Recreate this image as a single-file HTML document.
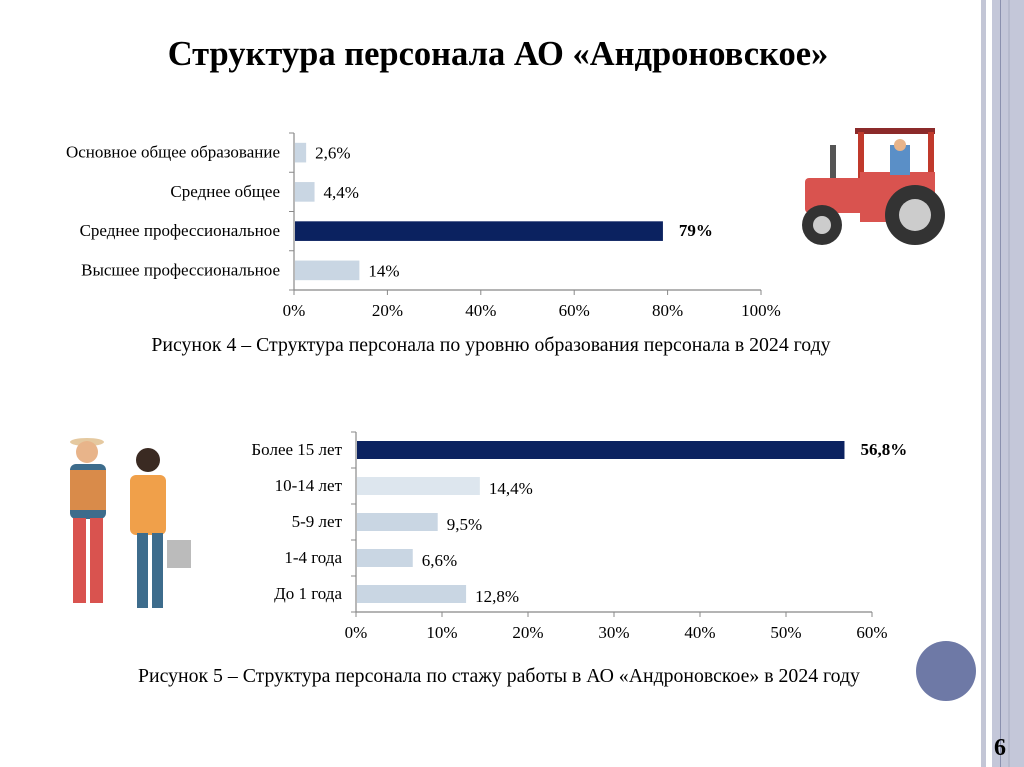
<!DOCTYPE html>
<html><head><meta charset="utf-8"><style>
body{margin:0;width:1024px;height:767px;background:#fff;overflow:hidden;position:relative;font-family:"Liberation Serif",serif}
.abs{position:absolute}
</style></head><body>
<div class="abs" style="left:981px;top:0;width:5px;height:767px;background:#c3c6d6"></div>
<div class="abs" style="left:992px;top:0;width:32px;height:767px;background:#c4c7d9"></div>
<div class="abs" style="left:1000px;top:0;width:1px;height:767px;background:#8a90ae"></div>
<div class="abs" style="left:1008px;top:0;width:2px;height:767px;background:#b6bacd"></div>
<div class="abs" style="left:916px;top:641px;width:60px;height:60px;border-radius:50%;background:#6e79a6"></div>
<div class="abs" style="left:994px;top:735px;font-weight:bold;font-size:24px">6</div>
<div class="abs" style="left:0;width:996px;top:35px;text-align:center;font-size:34.5px;font-weight:bold">Структура персонала АО «Андроновское»</div>
<div class="abs" style="left:0;width:982px;top:334px;text-align:center;font-size:19.8px">Рисунок 4 – Структура персонала по уровню образования персонала в 2024 году</div>
<div class="abs" style="left:0;width:998px;top:665px;text-align:center;font-size:19.8px">Рисунок 5 – Структура персонала по стажу работы в АО «Андроновское» в 2024 году</div>

<svg class="abs" style="left:0;top:0" width="1024" height="767" id="svg">
<g>
<rect x="855" y="128" width="80" height="6" fill="#8b2a2a"/>
<rect x="858" y="132" width="6" height="50" fill="#c0392b"/>
<rect x="928" y="132" width="6" height="55" fill="#c0392b"/>
<rect x="830" y="145" width="6" height="35" fill="#555"/>
<rect x="805" y="178" width="130" height="35" rx="4" fill="#d9534f"/>
<rect x="860" y="172" width="75" height="50" fill="#d9534f"/>
<rect x="890" y="145" width="20" height="30" fill="#5a8fc7"/>
<circle cx="900" cy="145" r="6" fill="#e8b48a"/>
<circle cx="915" cy="215" r="30" fill="#333"/><circle cx="915" cy="215" r="16" fill="#ccc"/>
<circle cx="822" cy="225" r="20" fill="#333"/><circle cx="822" cy="225" r="9" fill="#ccc"/>
</g>
<g>
<ellipse cx="87" cy="442" rx="17" ry="4" fill="#e5c9a0"/>
<circle cx="87" cy="452" r="11" fill="#e8b48a"/>
<rect x="70" y="464" width="36" height="55" rx="6" fill="#3d6c8c"/>
<rect x="70" y="470" width="36" height="40" fill="#d98b4a"/>
<rect x="73" y="518" width="13" height="85" fill="#d9534f"/><rect x="90" y="518" width="13" height="85" fill="#d9534f"/>
<circle cx="148" cy="460" r="12" fill="#3a2a22"/>
<rect x="130" y="475" width="36" height="60" rx="6" fill="#f0a04a"/>
<rect x="137" y="533" width="11" height="75" fill="#3d6c8c"/><rect x="152" y="533" width="11" height="75" fill="#3d6c8c"/>
<rect x="167" y="540" width="24" height="28" fill="#bbb"/>
</g>
</svg>
<script>
const svg=document.getElementById('svg');
const NS='http://www.w3.org/2000/svg';
function mk(t,a,p){const e=document.createElementNS(NS,t);for(const k in a)e.setAttribute(k,a[k]);(p||svg).appendChild(e);return e;}

const eduCategories=["Основное общее образование","Среднее общее","Среднее профессиональное","Высшее профессиональное"];
const eduValues=[2.6,4.4,79,14];
const eduLabels=["2,6%","4,4%","79%","14%"];
const eduTicks=[0,20,40,60,80,100];
const expCategories=["Более 15 лет","10-14 лет","5-9 лет","1-4 года","До 1 года"];
const expValues=[56.8,14.4,9.5,6.6,12.8];
const expLabels=["56,8%","14,4%","9,5%","6,6%","12,8%"];
const expTicks=[0,10,20,30,40,50,60];

function chart(cfg){
  const {cats,vals,labels,ticks,x0,x1,max,y0,y1,colors,name,valOff}=cfg;
  const g=mk('g',{});
  
  
  const xs=v=>x0+(x1-x0)*v/max;
  const band=(y1-y0)/cats.length;
  const ax=mk('line',{x1:x0,y1:y0,x2:x0,y2:y1,stroke:'#888','stroke-width':1.2},g);
  
  const bx=mk('line',{x1:x0,y1:y1,x2:x1,y2:y1,stroke:'#888','stroke-width':1.2},g);
  
  for(let i=0;i<=cats.length;i++)mk('line',{x1:x0-5,x2:x0,y1:y0+i*band,y2:y0+i*band,stroke:'#888'},g);
  ticks.forEach(t=>{
    mk('line',{x1:xs(t),x2:xs(t),y1:y1,y2:y1+5,stroke:'#888'},g);
    const tl=mk('text',{x:xs(t),y:y1+26,'text-anchor':'middle','font-size':17,'font-family':'Liberation Serif'},g);
    tl.textContent=t+'%';
    
  });
  cats.forEach((c,i)=>{
    const cy=y0+band*(i+0.5);
    const bh=band*0.5;
    const r=mk('rect',{x:x0+1,y:cy-bh/2,width:xs(vals[i])-x0-1,height:bh,fill:colors[i]},g);
    
    const cl=mk('text',{x:x0-14,y:cy+5,'text-anchor':'end','font-size':17,'font-family':'Liberation Serif'},g);
    cl.textContent=c;
    
    const bold=colors[i]==='#0b2260';
    const vl=mk('text',{x:xs(vals[i])+(bold?16:9),y:cy+(bold?5:valOff),'font-size':17,'font-weight':bold?'bold':'normal','font-family':'Liberation Serif'},g);
    vl.textContent=labels[i];
    
  });
}
chart({name:'education-chart',cats:eduCategories,vals:eduValues,labels:eduLabels,ticks:eduTicks,x0:294,x1:761,max:100,y0:133,y1:290,
  colors:['#c9d6e3','#c9d6e3','#0b2260','#c9d6e3'],valOff:6});
chart({name:'experience-chart',cats:expCategories,vals:expValues,labels:expLabels,ticks:expTicks,x0:356,x1:872,max:60,y0:432,y1:612,
  colors:['#0b2260','#dde6ee','#c9d6e3','#c9d6e3','#c9d6e3'],valOff:8});
</script>
</body></html>
